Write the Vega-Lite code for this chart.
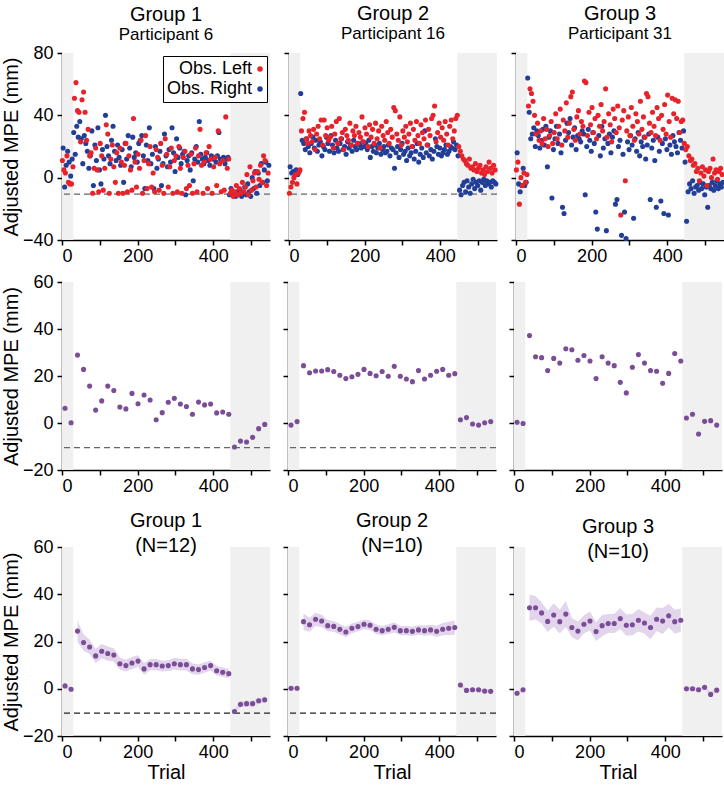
{
"$schema": "https://vega.github.io/schema/vega-lite/v6.json",
"padding": {"left": 1, "top": 4, "right": 0, "bottom": 0},
"config": {
  "view": {"stroke": null},
  "font": "Liberation Sans",
  "axis": {"grid": false, "domainColor": "black", "tickColor": "black", "labelColor": "black", "titleColor": "black", "labelFontSize": 18, "titleFontSize": 20, "titleFontWeight": "normal", "tickSize": 5, "domainWidth": 1.5, "tickWidth": 1.5},
  "axisX": {"labelPadding": 2},
  "axisY": {"labelPadding": 4},
  "title": {"fontSize": 20, "fontWeight": "normal", "color": "black", "subtitleColor": "black", "anchor": "middle"},
  "legend": {"labelFontSize": 18, "labelColor": "black"}
},
"datasets": {
  "shade": [{"a": 0, "b": 30}, {"a": 445, "b": 550}],
  "one": [{}],
  "s1L": [{"t":1,"y":11},{"t":5,"y":5},{"t":9,"y":3},{"t":13,"y":14},{"t":17,"y":-3},{"t":21,"y":-4},{"t":25,"y":-4},{"t":29,"y":7},{"t":33,"y":51},{"t":37,"y":61},{"t":41,"y":43},{"t":45,"y":42},{"t":49,"y":23},{"t":53,"y":50},{"t":57,"y":55},{"t":61,"y":42},{"t":65,"y":24},{"t":69,"y":31},{"t":73,"y":14},{"t":77,"y":16},{"t":81,"y":-10},{"t":85,"y":6},{"t":89,"y":19},{"t":93,"y":5},{"t":97,"y":-9},{"t":101,"y":22},{"t":105,"y":14},{"t":109,"y":-8},{"t":113,"y":6},{"t":117,"y":34},{"t":121,"y":28},{"t":125,"y":-10},{"t":129,"y":12},{"t":133,"y":21},{"t":137,"y":7},{"t":141,"y":-3},{"t":145,"y":16},{"t":149,"y":-10},{"t":153,"y":19},{"t":157,"y":10},{"t":161,"y":-10},{"t":165,"y":8},{"t":169,"y":22},{"t":173,"y":-9},{"t":177,"y":14},{"t":181,"y":5},{"t":185,"y":-8},{"t":189,"y":38},{"t":193,"y":10},{"t":197,"y":-6},{"t":201,"y":15},{"t":205,"y":6},{"t":209,"y":24},{"t":213,"y":-10},{"t":217,"y":11},{"t":221,"y":27},{"t":225,"y":-7},{"t":229,"y":9},{"t":233,"y":20},{"t":237,"y":-6},{"t":241,"y":3},{"t":245,"y":-9},{"t":249,"y":18},{"t":253,"y":13},{"t":257,"y":-8},{"t":261,"y":22},{"t":265,"y":8},{"t":269,"y":-10},{"t":273,"y":25},{"t":277,"y":15},{"t":281,"y":-6},{"t":285,"y":7},{"t":289,"y":19},{"t":293,"y":-10},{"t":297,"y":11},{"t":301,"y":14},{"t":305,"y":-9},{"t":309,"y":20},{"t":313,"y":6},{"t":317,"y":-10},{"t":321,"y":13},{"t":325,"y":17},{"t":329,"y":-7},{"t":333,"y":8},{"t":337,"y":-5},{"t":341,"y":15},{"t":345,"y":-10},{"t":349,"y":9},{"t":353,"y":19},{"t":357,"y":-9},{"t":361,"y":14},{"t":365,"y":31},{"t":369,"y":8},{"t":373,"y":-10},{"t":377,"y":10},{"t":381,"y":16},{"t":385,"y":-7},{"t":389,"y":20},{"t":393,"y":12},{"t":397,"y":-10},{"t":401,"y":7},{"t":405,"y":13},{"t":409,"y":-5},{"t":413,"y":30},{"t":417,"y":9},{"t":421,"y":-9},{"t":425,"y":11},{"t":429,"y":-8},{"t":433,"y":39},{"t":437,"y":6},{"t":441,"y":12},{"t":445,"y":-10},{"t":449,"y":-8},{"t":453,"y":-12},{"t":457,"y":-9},{"t":461,"y":-5},{"t":465,"y":-11},{"t":469,"y":-7},{"t":473,"y":-10},{"t":477,"y":-3},{"t":481,"y":-9},{"t":485,"y":-6},{"t":489,"y":2},{"t":493,"y":-11},{"t":497,"y":7},{"t":501,"y":-8},{"t":505,"y":-2},{"t":509,"y":3},{"t":513,"y":-6},{"t":517,"y":4},{"t":521,"y":-1},{"t":525,"y":8},{"t":529,"y":-3},{"t":533,"y":14},{"t":537,"y":11},{"t":541,"y":-5},{"t":545,"y":3}],
  "s1R": [{"t":3,"y":19},{"t":7,"y":-6},{"t":11,"y":8},{"t":15,"y":17},{"t":19,"y":10},{"t":23,"y":1},{"t":27,"y":12},{"t":31,"y":29},{"t":35,"y":15},{"t":39,"y":33},{"t":43,"y":26},{"t":47,"y":36},{"t":51,"y":25},{"t":55,"y":9},{"t":59,"y":27},{"t":63,"y":22},{"t":67,"y":17},{"t":71,"y":6},{"t":75,"y":14},{"t":79,"y":30},{"t":83,"y":-5},{"t":87,"y":21},{"t":91,"y":11},{"t":95,"y":32},{"t":99,"y":5},{"t":103,"y":-4},{"t":107,"y":18},{"t":111,"y":12},{"t":115,"y":40},{"t":119,"y":20},{"t":123,"y":14},{"t":127,"y":9},{"t":131,"y":24},{"t":135,"y":33},{"t":139,"y":17},{"t":143,"y":11},{"t":147,"y":21},{"t":151,"y":13},{"t":155,"y":8},{"t":159,"y":18},{"t":163,"y":-3},{"t":167,"y":22},{"t":171,"y":12},{"t":175,"y":27},{"t":179,"y":19},{"t":183,"y":7},{"t":187,"y":26},{"t":191,"y":13},{"t":195,"y":16},{"t":199,"y":10},{"t":203,"y":22},{"t":207,"y":24},{"t":211,"y":27},{"t":215,"y":14},{"t":219,"y":-7},{"t":223,"y":21},{"t":227,"y":11},{"t":231,"y":32},{"t":235,"y":9},{"t":239,"y":15},{"t":243,"y":-7},{"t":247,"y":20},{"t":251,"y":6},{"t":255,"y":12},{"t":259,"y":17},{"t":263,"y":-5},{"t":267,"y":9},{"t":271,"y":28},{"t":275,"y":14},{"t":279,"y":7},{"t":283,"y":18},{"t":287,"y":10},{"t":291,"y":32},{"t":295,"y":16},{"t":299,"y":4},{"t":303,"y":25},{"t":307,"y":13},{"t":311,"y":19},{"t":315,"y":9},{"t":319,"y":15},{"t":323,"y":17},{"t":327,"y":-11},{"t":331,"y":11},{"t":335,"y":14},{"t":339,"y":5},{"t":343,"y":16},{"t":347,"y":-2},{"t":351,"y":12},{"t":355,"y":20},{"t":359,"y":10},{"t":363,"y":36},{"t":367,"y":15},{"t":371,"y":12},{"t":375,"y":9},{"t":379,"y":13},{"t":383,"y":16},{"t":387,"y":11},{"t":391,"y":8},{"t":395,"y":14},{"t":399,"y":12},{"t":403,"y":13},{"t":407,"y":10},{"t":411,"y":14},{"t":415,"y":29},{"t":419,"y":12},{"t":423,"y":11},{"t":427,"y":13},{"t":431,"y":9},{"t":435,"y":12},{"t":439,"y":13},{"t":443,"y":-11},{"t":447,"y":-7},{"t":451,"y":-11},{"t":455,"y":-10},{"t":459,"y":-12},{"t":463,"y":-9},{"t":467,"y":-11},{"t":471,"y":-8},{"t":475,"y":-12},{"t":479,"y":-10},{"t":483,"y":-6},{"t":487,"y":-11},{"t":491,"y":-4},{"t":495,"y":-9},{"t":499,"y":-12},{"t":503,"y":0},{"t":507,"y":-7},{"t":511,"y":4},{"t":515,"y":-10},{"t":519,"y":3},{"t":523,"y":-5},{"t":527,"y":9},{"t":531,"y":-3},{"t":535,"y":5},{"t":539,"y":10},{"t":543,"y":-2},{"t":547,"y":8}],
  "s2L": [{"t":1,"y":-10},{"t":5,"y":-6},{"t":9,"y":-3},{"t":13,"y":0},{"t":17,"y":2},{"t":21,"y":-4},{"t":25,"y":3},{"t":29,"y":5},{"t":33,"y":30},{"t":37,"y":38},{"t":41,"y":42},{"t":45,"y":25},{"t":49,"y":22},{"t":53,"y":30},{"t":57,"y":27},{"t":61,"y":23},{"t":65,"y":31},{"t":69,"y":18},{"t":73,"y":28},{"t":77,"y":33},{"t":81,"y":25},{"t":85,"y":37},{"t":89,"y":21},{"t":93,"y":37},{"t":97,"y":27},{"t":101,"y":32},{"t":105,"y":24},{"t":109,"y":26},{"t":113,"y":33},{"t":117,"y":19},{"t":121,"y":28},{"t":125,"y":36},{"t":129,"y":22},{"t":133,"y":38},{"t":137,"y":25},{"t":141,"y":29},{"t":145,"y":18},{"t":149,"y":31},{"t":153,"y":27},{"t":157,"y":24},{"t":161,"y":35},{"t":165,"y":21},{"t":169,"y":30},{"t":173,"y":27},{"t":177,"y":33},{"t":181,"y":22},{"t":185,"y":29},{"t":189,"y":26},{"t":193,"y":39},{"t":197,"y":23},{"t":201,"y":32},{"t":205,"y":28},{"t":209,"y":20},{"t":213,"y":34},{"t":217,"y":26},{"t":221,"y":31},{"t":225,"y":22},{"t":229,"y":35},{"t":233,"y":25},{"t":237,"y":30},{"t":241,"y":19},{"t":245,"y":33},{"t":249,"y":27},{"t":253,"y":24},{"t":257,"y":36},{"t":261,"y":29},{"t":265,"y":22},{"t":269,"y":31},{"t":273,"y":26},{"t":277,"y":45},{"t":281,"y":43},{"t":285,"y":28},{"t":289,"y":24},{"t":293,"y":39},{"t":297,"y":21},{"t":301,"y":30},{"t":305,"y":26},{"t":309,"y":33},{"t":313,"y":23},{"t":317,"y":28},{"t":321,"y":35},{"t":325,"y":20},{"t":329,"y":31},{"t":333,"y":24},{"t":337,"y":36},{"t":341,"y":27},{"t":345,"y":22},{"t":349,"y":34},{"t":353,"y":29},{"t":357,"y":25},{"t":361,"y":37},{"t":365,"y":21},{"t":369,"y":31},{"t":373,"y":27},{"t":377,"y":38},{"t":381,"y":40},{"t":385,"y":46},{"t":389,"y":23},{"t":393,"y":29},{"t":397,"y":35},{"t":401,"y":26},{"t":405,"y":32},{"t":409,"y":24},{"t":413,"y":36},{"t":417,"y":28},{"t":421,"y":21},{"t":425,"y":33},{"t":429,"y":37},{"t":433,"y":25},{"t":437,"y":30},{"t":441,"y":38},{"t":445,"y":40},{"t":449,"y":20},{"t":453,"y":17},{"t":457,"y":14},{"t":461,"y":12},{"t":465,"y":11},{"t":469,"y":9},{"t":473,"y":8},{"t":477,"y":12},{"t":481,"y":6},{"t":485,"y":7},{"t":489,"y":5},{"t":493,"y":9},{"t":497,"y":4},{"t":501,"y":6},{"t":505,"y":8},{"t":509,"y":3},{"t":513,"y":5},{"t":517,"y":2},{"t":521,"y":7},{"t":525,"y":4},{"t":529,"y":10},{"t":533,"y":6},{"t":537,"y":3},{"t":541,"y":8},{"t":545,"y":5}],
  "s2R": [{"t":3,"y":7},{"t":7,"y":3},{"t":11,"y":4},{"t":15,"y":4},{"t":19,"y":5},{"t":23,"y":2},{"t":27,"y":4},{"t":31,"y":54},{"t":35,"y":24},{"t":39,"y":22},{"t":43,"y":18},{"t":47,"y":25},{"t":51,"y":20},{"t":55,"y":16},{"t":59,"y":22},{"t":63,"y":26},{"t":67,"y":19},{"t":71,"y":24},{"t":75,"y":17},{"t":79,"y":21},{"t":83,"y":23},{"t":87,"y":14},{"t":91,"y":20},{"t":95,"y":18},{"t":99,"y":26},{"t":103,"y":22},{"t":107,"y":17},{"t":111,"y":27},{"t":115,"y":21},{"t":119,"y":16},{"t":123,"y":24},{"t":127,"y":19},{"t":131,"y":17},{"t":135,"y":22},{"t":139,"y":25},{"t":143,"y":18},{"t":147,"y":20},{"t":151,"y":15},{"t":155,"y":23},{"t":159,"y":19},{"t":163,"y":21},{"t":167,"y":17},{"t":171,"y":24},{"t":175,"y":20},{"t":179,"y":18},{"t":183,"y":22},{"t":187,"y":21},{"t":191,"y":19},{"t":195,"y":23},{"t":199,"y":20},{"t":203,"y":22},{"t":207,"y":18},{"t":211,"y":24},{"t":215,"y":13},{"t":219,"y":20},{"t":223,"y":17},{"t":227,"y":21},{"t":231,"y":16},{"t":235,"y":19},{"t":239,"y":22},{"t":243,"y":15},{"t":247,"y":18},{"t":251,"y":20},{"t":255,"y":16},{"t":259,"y":17},{"t":263,"y":21},{"t":267,"y":14},{"t":271,"y":19},{"t":275,"y":18},{"t":279,"y":6},{"t":283,"y":16},{"t":287,"y":20},{"t":291,"y":13},{"t":295,"y":18},{"t":299,"y":22},{"t":303,"y":15},{"t":307,"y":17},{"t":311,"y":11},{"t":315,"y":19},{"t":319,"y":14},{"t":323,"y":16},{"t":327,"y":20},{"t":331,"y":12},{"t":335,"y":17},{"t":339,"y":22},{"t":343,"y":10},{"t":347,"y":15},{"t":351,"y":19},{"t":355,"y":13},{"t":359,"y":30},{"t":363,"y":16},{"t":367,"y":21},{"t":371,"y":14},{"t":375,"y":18},{"t":379,"y":12},{"t":383,"y":17},{"t":387,"y":25},{"t":391,"y":20},{"t":395,"y":15},{"t":399,"y":19},{"t":403,"y":14},{"t":407,"y":16},{"t":411,"y":18},{"t":415,"y":21},{"t":419,"y":15},{"t":423,"y":17},{"t":427,"y":20},{"t":431,"y":19},{"t":435,"y":23},{"t":439,"y":18},{"t":443,"y":21},{"t":447,"y":14},{"t":451,"y":-8},{"t":455,"y":-11},{"t":459,"y":-5},{"t":463,"y":-3},{"t":467,"y":-9},{"t":471,"y":-2},{"t":475,"y":-6},{"t":479,"y":-10},{"t":483,"y":-4},{"t":487,"y":-1},{"t":491,"y":-7},{"t":495,"y":-3},{"t":499,"y":-5},{"t":503,"y":-2},{"t":507,"y":-8},{"t":511,"y":-3},{"t":515,"y":-1},{"t":519,"y":-5},{"t":523,"y":-2},{"t":527,"y":-4},{"t":531,"y":-3},{"t":535,"y":-6},{"t":539,"y":-2},{"t":543,"y":-3},{"t":547,"y":-4}],
  "s3L": [{"t":1,"y":5},{"t":5,"y":10},{"t":9,"y":-17},{"t":13,"y":0},{"t":17,"y":-5},{"t":21,"y":3},{"t":25,"y":-3},{"t":29,"y":2},{"t":33,"y":46},{"t":37,"y":57},{"t":41,"y":54},{"t":45,"y":49},{"t":49,"y":40},{"t":53,"y":28},{"t":57,"y":35},{"t":61,"y":24},{"t":65,"y":30},{"t":69,"y":22},{"t":73,"y":38},{"t":77,"y":25},{"t":81,"y":31},{"t":85,"y":20},{"t":89,"y":27},{"t":93,"y":36},{"t":97,"y":22},{"t":101,"y":29},{"t":105,"y":41},{"t":109,"y":25},{"t":113,"y":33},{"t":117,"y":44},{"t":121,"y":21},{"t":125,"y":37},{"t":129,"y":30},{"t":133,"y":48},{"t":137,"y":26},{"t":141,"y":35},{"t":145,"y":52},{"t":149,"y":55},{"t":153,"y":31},{"t":157,"y":24},{"t":161,"y":39},{"t":165,"y":43},{"t":169,"y":28},{"t":173,"y":36},{"t":177,"y":33},{"t":181,"y":62},{"t":185,"y":61},{"t":189,"y":27},{"t":193,"y":42},{"t":197,"y":34},{"t":201,"y":45},{"t":205,"y":29},{"t":209,"y":38},{"t":213,"y":25},{"t":217,"y":40},{"t":221,"y":33},{"t":225,"y":47},{"t":229,"y":30},{"t":233,"y":36},{"t":237,"y":57},{"t":241,"y":26},{"t":245,"y":41},{"t":249,"y":34},{"t":253,"y":23},{"t":257,"y":44},{"t":261,"y":38},{"t":265,"y":29},{"t":269,"y":46},{"t":273,"y":32},{"t":277,"y":-24},{"t":281,"y":37},{"t":285,"y":43},{"t":289,"y":-2},{"t":293,"y":30},{"t":297,"y":39},{"t":301,"y":27},{"t":305,"y":45},{"t":309,"y":33},{"t":313,"y":24},{"t":317,"y":41},{"t":321,"y":36},{"t":325,"y":28},{"t":329,"y":49},{"t":333,"y":31},{"t":337,"y":39},{"t":341,"y":26},{"t":345,"y":54},{"t":349,"y":52},{"t":353,"y":35},{"t":357,"y":29},{"t":361,"y":42},{"t":365,"y":33},{"t":369,"y":27},{"t":373,"y":45},{"t":377,"y":38},{"t":381,"y":24},{"t":385,"y":40},{"t":389,"y":31},{"t":393,"y":47},{"t":397,"y":28},{"t":401,"y":53},{"t":405,"y":36},{"t":409,"y":26},{"t":413,"y":51},{"t":417,"y":41},{"t":421,"y":50},{"t":425,"y":38},{"t":429,"y":49},{"t":433,"y":29},{"t":437,"y":36},{"t":441,"y":37},{"t":445,"y":22},{"t":449,"y":18},{"t":453,"y":20},{"t":457,"y":14},{"t":461,"y":11},{"t":465,"y":12},{"t":469,"y":8},{"t":473,"y":9},{"t":477,"y":4},{"t":481,"y":6},{"t":485,"y":-2},{"t":489,"y":3},{"t":493,"y":7},{"t":497,"y":1},{"t":501,"y":5},{"t":505,"y":-5},{"t":509,"y":4},{"t":513,"y":6},{"t":517,"y":0},{"t":521,"y":12},{"t":525,"y":3},{"t":529,"y":5},{"t":533,"y":-1},{"t":537,"y":4},{"t":541,"y":6},{"t":545,"y":2}],
  "s3R": [{"t":3,"y":16},{"t":7,"y":-4},{"t":11,"y":-9},{"t":15,"y":-5},{"t":19,"y":6},{"t":23,"y":-5},{"t":27,"y":-3},{"t":31,"y":64},{"t":35,"y":42},{"t":39,"y":25},{"t":43,"y":28},{"t":47,"y":32},{"t":51,"y":20},{"t":55,"y":30},{"t":59,"y":27},{"t":63,"y":19},{"t":67,"y":24},{"t":71,"y":31},{"t":75,"y":21},{"t":79,"y":33},{"t":83,"y":7},{"t":87,"y":26},{"t":91,"y":30},{"t":95,"y":-13},{"t":99,"y":18},{"t":103,"y":25},{"t":107,"y":33},{"t":111,"y":22},{"t":115,"y":28},{"t":119,"y":16},{"t":123,"y":-19},{"t":127,"y":-23},{"t":131,"y":24},{"t":135,"y":35},{"t":139,"y":29},{"t":143,"y":38},{"t":147,"y":21},{"t":151,"y":26},{"t":155,"y":32},{"t":159,"y":18},{"t":163,"y":27},{"t":167,"y":25},{"t":171,"y":23},{"t":175,"y":30},{"t":179,"y":28},{"t":183,"y":-11},{"t":187,"y":20},{"t":191,"y":31},{"t":195,"y":24},{"t":199,"y":17},{"t":203,"y":29},{"t":207,"y":22},{"t":211,"y":-22},{"t":215,"y":-33},{"t":219,"y":27},{"t":223,"y":14},{"t":227,"y":33},{"t":231,"y":19},{"t":235,"y":25},{"t":239,"y":-34},{"t":243,"y":22},{"t":247,"y":28},{"t":251,"y":16},{"t":255,"y":26},{"t":259,"y":30},{"t":263,"y":-17},{"t":267,"y":-14},{"t":271,"y":20},{"t":275,"y":24},{"t":279,"y":-37},{"t":283,"y":15},{"t":287,"y":-22},{"t":291,"y":-39},{"t":295,"y":23},{"t":299,"y":18},{"t":303,"y":27},{"t":307,"y":21},{"t":311,"y":-26},{"t":315,"y":25},{"t":319,"y":17},{"t":323,"y":29},{"t":327,"y":14},{"t":331,"y":23},{"t":335,"y":20},{"t":339,"y":26},{"t":343,"y":12},{"t":347,"y":21},{"t":351,"y":28},{"t":355,"y":-14},{"t":359,"y":19},{"t":363,"y":24},{"t":367,"y":11},{"t":371,"y":-19},{"t":375,"y":26},{"t":379,"y":17},{"t":383,"y":-15},{"t":387,"y":22},{"t":391,"y":-23},{"t":395,"y":25},{"t":399,"y":18},{"t":403,"y":-24},{"t":407,"y":21},{"t":411,"y":15},{"t":415,"y":27},{"t":419,"y":23},{"t":423,"y":20},{"t":427,"y":16},{"t":431,"y":29},{"t":435,"y":24},{"t":439,"y":19},{"t":443,"y":30},{"t":447,"y":10},{"t":451,"y":-28},{"t":455,"y":-9},{"t":459,"y":-4},{"t":463,"y":-7},{"t":467,"y":-2},{"t":471,"y":-10},{"t":475,"y":-6},{"t":479,"y":-5},{"t":483,"y":-8},{"t":487,"y":-3},{"t":491,"y":-7},{"t":495,"y":-4},{"t":499,"y":-11},{"t":503,"y":-6},{"t":507,"y":-19},{"t":511,"y":-5},{"t":515,"y":-7},{"t":519,"y":-3},{"t":523,"y":-8},{"t":527,"y":-5},{"t":531,"y":-2},{"t":535,"y":-7},{"t":539,"y":-4},{"t":543,"y":-6},{"t":547,"y":-3}],
  "mid": [
    {"g":1,"t":8,"y":6.3},{"g":1,"t":24,"y":0.1},{"g":1,"t":41,"y":28.9},{"g":1,"t":57,"y":22.8},{"g":1,"t":73,"y":15.7},{"g":1,"t":89,"y":5.5},{"g":1,"t":105,"y":9.4},{"g":1,"t":121,"y":15.7},{"g":1,"t":137,"y":13.8},{"g":1,"t":153,"y":6.8},{"g":1,"t":169,"y":6.0},{"g":1,"t":185,"y":12.6},{"g":1,"t":201,"y":8.2},{"g":1,"t":217,"y":11.9},{"g":1,"t":233,"y":9.8},{"g":1,"t":249,"y":1.4},{"g":1,"t":265,"y":4.4},{"g":1,"t":281,"y":8.8},{"g":1,"t":297,"y":10.5},{"g":1,"t":313,"y":8.1},{"g":1,"t":329,"y":7.0},{"g":1,"t":345,"y":3.7},{"g":1,"t":361,"y":8.9},{"g":1,"t":377,"y":7.7},{"g":1,"t":393,"y":8.1},{"g":1,"t":409,"y":4.3},{"g":1,"t":425,"y":4.7},{"g":1,"t":441,"y":3.7},{"g":1,"t":456,"y":-10.2},{"g":1,"t":472,"y":-7.7},{"g":1,"t":488,"y":-8.1},{"g":1,"t":504,"y":-6.1},{"g":1,"t":520,"y":-2.4},{"g":1,"t":536,"y":-0.6},
    {"g":2,"t":8,"y":-0.9},{"g":2,"t":24,"y":0.6},{"g":2,"t":41,"y":24.4},{"g":2,"t":57,"y":21.4},{"g":2,"t":73,"y":22.1},{"g":2,"t":89,"y":22.1},{"g":2,"t":105,"y":22.7},{"g":2,"t":121,"y":21.9},{"g":2,"t":137,"y":20.3},{"g":2,"t":153,"y":18.9},{"g":2,"t":169,"y":19.7},{"g":2,"t":185,"y":20.7},{"g":2,"t":201,"y":22.8},{"g":2,"t":217,"y":21.1},{"g":2,"t":233,"y":20.1},{"g":2,"t":249,"y":21.9},{"g":2,"t":265,"y":19.9},{"g":2,"t":281,"y":24.1},{"g":2,"t":297,"y":19.9},{"g":2,"t":313,"y":18.7},{"g":2,"t":329,"y":17.6},{"g":2,"t":345,"y":22.3},{"g":2,"t":361,"y":18.7},{"g":2,"t":377,"y":20.3},{"g":2,"t":393,"y":22.0},{"g":2,"t":409,"y":22.8},{"g":2,"t":425,"y":20.3},{"g":2,"t":441,"y":21.0},{"g":2,"t":456,"y":1.4},{"g":2,"t":472,"y":2.3},{"g":2,"t":488,"y":-0.4},{"g":2,"t":504,"y":-0.9},{"g":2,"t":520,"y":0.1},{"g":2,"t":536,"y":0.6},
    {"g":3,"t":8,"y":0.3},{"g":3,"t":24,"y":-0.2},{"g":3,"t":41,"y":37.2},{"g":3,"t":57,"y":28.2},{"g":3,"t":73,"y":27.8},{"g":3,"t":89,"y":22.3},{"g":3,"t":105,"y":27.5},{"g":3,"t":121,"y":25.5},{"g":3,"t":137,"y":31.6},{"g":3,"t":153,"y":31.2},{"g":3,"t":169,"y":26.7},{"g":3,"t":185,"y":28.7},{"g":3,"t":201,"y":26.4},{"g":3,"t":217,"y":18.9},{"g":3,"t":233,"y":28.2},{"g":3,"t":249,"y":25.5},{"g":3,"t":265,"y":24.4},{"g":3,"t":281,"y":17.3},{"g":3,"t":297,"y":12.8},{"g":3,"t":313,"y":23.7},{"g":3,"t":329,"y":29.1},{"g":3,"t":345,"y":25.5},{"g":3,"t":361,"y":22.3},{"g":3,"t":377,"y":22.0},{"g":3,"t":393,"y":16.9},{"g":3,"t":409,"y":21.1},{"g":3,"t":425,"y":29.6},{"g":3,"t":441,"y":26.4},{"g":3,"t":456,"y":2.1},{"g":3,"t":472,"y":3.7},{"g":3,"t":488,"y":-4.7},{"g":3,"t":504,"y":0.7},{"g":3,"t":520,"y":1.0},{"g":3,"t":536,"y":-0.9}
  ],
  "bot": [
    {"g":1,"s":0,"t":8,"y":1.2,"lo":0.4,"hi":2.0},{"g":1,"s":0,"t":24,"y":-0.2,"lo":-1.0,"hi":0.6},
    {"g":1,"s":1,"t":41,"y":24.4,"lo":19.9,"hi":28.9},{"g":1,"s":1,"t":57,"y":19.6,"lo":16.1,"hi":23.1},{"g":1,"s":1,"t":73,"y":17.7,"lo":14.7,"hi":20.7},{"g":1,"s":1,"t":89,"y":13.9,"lo":10.9,"hi":16.9},{"g":1,"s":1,"t":105,"y":15.9,"lo":12.9,"hi":18.9},{"g":1,"s":1,"t":121,"y":14.9,"lo":11.9,"hi":17.9},{"g":1,"s":1,"t":137,"y":14.3,"lo":11.5,"hi":17.1},{"g":1,"s":1,"t":153,"y":10.6,"lo":8.0,"hi":13.2},{"g":1,"s":1,"t":169,"y":9.8,"lo":7.3,"hi":12.3},{"g":1,"s":1,"t":185,"y":10.9,"lo":8.4,"hi":13.4},{"g":1,"s":1,"t":201,"y":11.7,"lo":9.2,"hi":14.2},{"g":1,"s":1,"t":217,"y":8.4,"lo":5.9,"hi":10.9},{"g":1,"s":1,"t":233,"y":10.2,"lo":7.8,"hi":12.6},{"g":1,"s":1,"t":249,"y":10.2,"lo":7.8,"hi":12.6},{"g":1,"s":1,"t":265,"y":9.6,"lo":7.3,"hi":11.9},{"g":1,"s":1,"t":281,"y":9.8,"lo":7.5,"hi":12.1},{"g":1,"s":1,"t":297,"y":10.6,"lo":8.1,"hi":13.1},{"g":1,"s":1,"t":313,"y":10.2,"lo":7.7,"hi":12.7},{"g":1,"s":1,"t":329,"y":10.2,"lo":7.7,"hi":12.7},{"g":1,"s":1,"t":345,"y":8.4,"lo":6.1,"hi":10.7},{"g":1,"s":1,"t":361,"y":8.1,"lo":5.9,"hi":10.3},{"g":1,"s":1,"t":377,"y":9.0,"lo":6.8,"hi":11.2},{"g":1,"s":1,"t":393,"y":9.8,"lo":7.7,"hi":11.9},{"g":1,"s":1,"t":409,"y":7.6,"lo":5.6,"hi":9.6},{"g":1,"s":1,"t":425,"y":7.0,"lo":5.0,"hi":9.0},{"g":1,"s":1,"t":441,"y":6.4,"lo":4.4,"hi":8.4},
    {"g":1,"s":2,"t":456,"y":-9.6,"lo":-10.8,"hi":-8.4},{"g":1,"s":2,"t":472,"y":-6.6,"lo":-7.8,"hi":-5.4},{"g":1,"s":2,"t":488,"y":-6.3,"lo":-7.5,"hi":-5.1},{"g":1,"s":2,"t":504,"y":-6.3,"lo":-7.5,"hi":-5.1},{"g":1,"s":2,"t":520,"y":-5.1,"lo":-6.3,"hi":-3.9},{"g":1,"s":2,"t":536,"y":-4.7,"lo":-5.9,"hi":-3.5},
    {"g":2,"s":0,"t":8,"y":0.2,"lo":-0.6,"hi":1.0},{"g":2,"s":0,"t":24,"y":0.2,"lo":-0.6,"hi":1.0},
    {"g":2,"s":1,"t":41,"y":28.4,"lo":24.9,"hi":31.9},{"g":2,"s":1,"t":57,"y":27.1,"lo":24.1,"hi":30.1},{"g":2,"s":1,"t":73,"y":29.4,"lo":26.6,"hi":32.2},{"g":2,"s":1,"t":89,"y":28.7,"lo":26.1,"hi":31.3},{"g":2,"s":1,"t":105,"y":26.7,"lo":24.3,"hi":29.1},{"g":2,"s":1,"t":121,"y":26.4,"lo":24.1,"hi":28.7},{"g":2,"s":1,"t":137,"y":25.2,"lo":23.0,"hi":27.4},{"g":2,"s":1,"t":153,"y":24.0,"lo":21.8,"hi":26.2},{"g":2,"s":1,"t":169,"y":25.6,"lo":23.5,"hi":27.7},{"g":2,"s":1,"t":185,"y":26.3,"lo":24.3,"hi":28.3},{"g":2,"s":1,"t":201,"y":27.3,"lo":25.3,"hi":29.3},{"g":2,"s":1,"t":217,"y":26.9,"lo":24.9,"hi":28.9},{"g":2,"s":1,"t":233,"y":25.2,"lo":23.2,"hi":27.2},{"g":2,"s":1,"t":249,"y":24.6,"lo":22.6,"hi":26.6},{"g":2,"s":1,"t":265,"y":25.2,"lo":23.2,"hi":27.2},{"g":2,"s":1,"t":281,"y":26.0,"lo":23.8,"hi":28.2},{"g":2,"s":1,"t":297,"y":24.6,"lo":22.6,"hi":26.6},{"g":2,"s":1,"t":313,"y":24.6,"lo":22.6,"hi":26.6},{"g":2,"s":1,"t":329,"y":24.3,"lo":22.3,"hi":26.3},{"g":2,"s":1,"t":345,"y":24.9,"lo":22.9,"hi":26.9},{"g":2,"s":1,"t":361,"y":24.6,"lo":22.4,"hi":26.8},{"g":2,"s":1,"t":377,"y":24.9,"lo":22.7,"hi":27.1},{"g":2,"s":1,"t":393,"y":24.3,"lo":21.9,"hi":26.7},{"g":2,"s":1,"t":409,"y":25.2,"lo":22.6,"hi":27.8},{"g":2,"s":1,"t":425,"y":25.6,"lo":22.8,"hi":28.4},{"g":2,"s":1,"t":441,"y":25.9,"lo":22.9,"hi":28.9},
    {"g":2,"s":2,"t":456,"y":1.6,"lo":0.8,"hi":2.4},{"g":2,"s":2,"t":472,"y":-0.7,"lo":-1.5,"hi":0.1},{"g":2,"s":2,"t":488,"y":-0.4,"lo":-1.2,"hi":0.4},{"g":2,"s":2,"t":504,"y":-0.4,"lo":-1.2,"hi":0.4},{"g":2,"s":2,"t":520,"y":-1.0,"lo":-1.8,"hi":-0.2},{"g":2,"s":2,"t":536,"y":-1.1,"lo":-1.9,"hi":-0.3},
    {"g":3,"s":0,"t":8,"y":-1.9,"lo":-2.7,"hi":-1.1},{"g":3,"s":0,"t":24,"y":-0.4,"lo":-1.2,"hi":0.4},
    {"g":3,"s":1,"t":41,"y":34.3,"lo":28.8,"hi":39.8},{"g":3,"s":1,"t":57,"y":34.3,"lo":29.3,"hi":39.3},{"g":3,"s":1,"t":73,"y":32.1,"lo":27.6,"hi":36.6},{"g":3,"s":1,"t":89,"y":28.5,"lo":24.0,"hi":33.0},{"g":3,"s":1,"t":105,"y":31.2,"lo":26.2,"hi":36.2},{"g":3,"s":1,"t":121,"y":28.4,"lo":23.4,"hi":33.4},{"g":3,"s":1,"t":137,"y":31.6,"lo":26.1,"hi":37.1},{"g":3,"s":1,"t":153,"y":25.9,"lo":21.9,"hi":29.9},{"g":3,"s":1,"t":169,"y":24.4,"lo":20.4,"hi":28.4},{"g":3,"s":1,"t":185,"y":27.3,"lo":23.5,"hi":31.1},{"g":3,"s":1,"t":201,"y":28.7,"lo":24.7,"hi":32.7},{"g":3,"s":1,"t":217,"y":24.2,"lo":20.2,"hi":28.2},{"g":3,"s":1,"t":233,"y":26.7,"lo":22.2,"hi":31.2},{"g":3,"s":1,"t":249,"y":27.6,"lo":23.6,"hi":31.6},{"g":3,"s":1,"t":265,"y":27.6,"lo":23.6,"hi":31.6},{"g":3,"s":1,"t":281,"y":29.7,"lo":25.2,"hi":34.2},{"g":3,"s":1,"t":297,"y":26.9,"lo":22.4,"hi":31.4},{"g":3,"s":1,"t":313,"y":27.1,"lo":22.6,"hi":31.6},{"g":3,"s":1,"t":329,"y":29.0,"lo":24.2,"hi":33.8},{"g":3,"s":1,"t":345,"y":27.8,"lo":23.3,"hi":32.3},{"g":3,"s":1,"t":361,"y":25.9,"lo":20.9,"hi":30.9},{"g":3,"s":1,"t":377,"y":29.4,"lo":24.4,"hi":34.4},{"g":3,"s":1,"t":393,"y":28.7,"lo":23.2,"hi":34.2},{"g":3,"s":1,"t":409,"y":30.9,"lo":25.9,"hi":35.9},{"g":3,"s":1,"t":425,"y":28.4,"lo":23.4,"hi":33.4},{"g":3,"s":1,"t":441,"y":29.0,"lo":24.0,"hi":34.0},
    {"g":3,"s":2,"t":456,"y":0.0,"lo":-0.8,"hi":0.8},{"g":3,"s":2,"t":472,"y":0.0,"lo":-0.8,"hi":0.8},{"g":3,"s":2,"t":488,"y":-0.4,"lo":-1.2,"hi":0.4},{"g":3,"s":2,"t":504,"y":0.6,"lo":-0.2,"hi":1.4},{"g":3,"s":2,"t":520,"y":-2.4,"lo":-3.2,"hi":-1.6},{"g":3,"s":2,"t":536,"y":-0.6,"lo":-1.4,"hi":0.2}
  ]
},
"spacing": 8,
"resolve": {"scale": {"color": "independent"}},
"vconcat": [
 {"hconcat": [
  {"width": 208, "height": 187, "title": {"text": "Group 1", "subtitle": "Participant 6", "subtitleFontSize": 17, "subtitlePadding": 2, "offset": 1},
   "layer": [
    {"data": {"name": "shade"}, "mark": {"type": "rect", "color": "#eff0ef"}, "encoding": {"x": {"field": "a", "type": "quantitative", "scale": {"domain": [0, 550], "nice": false}, "axis": {"values": [0,100,200,300,400,500], "labelExpr": "datum.value % 200 === 0 ? datum.label : ''", "title": null}}, "x2": {"field": "b"}}},
    {"data": {"name": "one"}, "mark": {"type": "rule", "color": "#666666", "strokeDash": [6, 4], "strokeWidth": 1.2}, "encoding": {"y": {"datum": -10.5}}},
    {"data": {"name": "s1R"}, "mark": {"type": "circle", "size": 26, "opacity": 1}, "encoding": {"x": {"field": "t", "type": "quantitative"}, "y": {"field": "y", "type": "quantitative", "scale": {"domain": [-40, 80], "nice": false}, "axis": {"values": [-40,-20,0,20,40,60,80], "title": "Adjusted MPE (mm)", "titlePadding": 1}}, "color": {"datum": "Obs. Right", "type": "nominal", "scale": {"domain": ["Obs. Left", "Obs. Right"], "range": ["#e8222b", "#233e97"]}, "legend": {"orient": "top-right", "offset": 3, "title": null, "strokeColor": "black", "fillColor": "white", "padding": 4, "symbolType": "circle", "symbolSize": 30, "labelFontSize": 18, "rowPadding": 2, "labelAlign": "right", "labelOffset": -17, "symbolOffset": 84}}}},
    {"data": {"name": "s1L"}, "mark": {"type": "circle", "size": 26, "opacity": 1}, "encoding": {"x": {"field": "t", "type": "quantitative"}, "y": {"field": "y", "type": "quantitative"}, "color": {"datum": "Obs. Left", "type": "nominal"}}}
   ]},
  {"width": 208, "height": 187, "title": {"text": "Group 2", "subtitle": "Participant 16", "subtitleFontSize": 17, "subtitlePadding": 2, "offset": 10},
   "layer": [
    {"data": {"name": "shade"}, "mark": {"type": "rect", "color": "#eff0ef"}, "encoding": {"x": {"field": "a", "type": "quantitative", "scale": {"domain": [0, 550], "nice": false}, "axis": {"values": [0,100,200,300,400,500], "labelExpr": "datum.value % 200 === 0 ? datum.label : ''", "title": null}}, "x2": {"field": "b"}}},
    {"data": {"name": "one"}, "mark": {"type": "rule", "color": "#666666", "strokeDash": [6, 4], "strokeWidth": 1.2}, "encoding": {"y": {"datum": -10.5}}},
    {"data": {"name": "s2R"}, "mark": {"type": "circle", "size": 26, "opacity": 1}, "encoding": {"x": {"field": "t", "type": "quantitative"}, "y": {"field": "y", "type": "quantitative", "scale": {"domain": [-40, 80], "nice": false}, "axis": {"values": [-40,-20,0,20,40,60,80], "labels": false, "title": null}}, "color": {"datum": "Obs. Right", "type": "nominal", "scale": {"domain": ["Obs. Left", "Obs. Right"], "range": ["#e8222b", "#233e97"]}, "legend": null}}},
    {"data": {"name": "s2L"}, "mark": {"type": "circle", "size": 26, "opacity": 1}, "encoding": {"x": {"field": "t", "type": "quantitative"}, "y": {"field": "y", "type": "quantitative"}, "color": {"datum": "Obs. Left", "type": "nominal"}}}
   ]},
  {"width": 208, "height": 187, "title": {"text": "Group 3", "subtitle": "Participant 31", "subtitleFontSize": 17, "subtitlePadding": 2, "offset": 10},
   "layer": [
    {"data": {"name": "shade"}, "mark": {"type": "rect", "color": "#eff0ef"}, "encoding": {"x": {"field": "a", "type": "quantitative", "scale": {"domain": [0, 550], "nice": false}, "axis": {"values": [0,100,200,300,400,500], "labelExpr": "datum.value % 200 === 0 ? datum.label : ''", "title": null}}, "x2": {"field": "b"}}},
    {"data": {"name": "s3R"}, "mark": {"type": "circle", "size": 26, "opacity": 1}, "encoding": {"x": {"field": "t", "type": "quantitative"}, "y": {"field": "y", "type": "quantitative", "scale": {"domain": [-40, 80], "nice": false}, "axis": {"values": [-40,-20,0,20,40,60,80], "labels": false, "title": null}}, "color": {"datum": "Obs. Right", "type": "nominal", "scale": {"domain": ["Obs. Left", "Obs. Right"], "range": ["#e8222b", "#233e97"]}, "legend": null}}},
    {"data": {"name": "s3L"}, "mark": {"type": "circle", "size": 26, "opacity": 1}, "encoding": {"x": {"field": "t", "type": "quantitative"}, "y": {"field": "y", "type": "quantitative"}, "color": {"datum": "Obs. Left", "type": "nominal"}}}
   ]}
 ], "spacing": 11, "resolve": {"scale": {"color": "independent"}}},
 {"vconcat": [
 {"hconcat": [
  {"width": 208, "height": 188,
   "layer": [
    {"data": {"name": "shade"}, "mark": {"type": "rect", "color": "#eff0ef"}, "encoding": {"x": {"field": "a", "type": "quantitative", "scale": {"domain": [0, 550], "nice": false}, "axis": {"values": [0,100,200,300,400,500], "labelExpr": "datum.value % 200 === 0 ? datum.label : ''", "title": null}}, "x2": {"field": "b"}}},
    {"data": {"name": "one"}, "mark": {"type": "rule", "color": "#666666", "strokeDash": [6, 4], "strokeWidth": 1.2}, "encoding": {"y": {"datum": -10.5}}},
    {"data": {"name": "mid"}, "transform": [{"filter": "datum.g == 1"}], "mark": {"type": "circle", "size": 26, "color": "#7a4d96", "opacity": 1}, "encoding": {"x": {"field": "t", "type": "quantitative"}, "y": {"field": "y", "type": "quantitative", "scale": {"domain": [-20, 60], "nice": false}, "axis": {"values": [-20,0,20,40,60], "title": "Adjusted MPE (mm)", "titlePadding": 1}}}}
   ]},
  {"width": 208, "height": 188,
   "layer": [
    {"data": {"name": "shade"}, "mark": {"type": "rect", "color": "#eff0ef"}, "encoding": {"x": {"field": "a", "type": "quantitative", "scale": {"domain": [0, 550], "nice": false}, "axis": {"values": [0,100,200,300,400,500], "labelExpr": "datum.value % 200 === 0 ? datum.label : ''", "title": null}}, "x2": {"field": "b"}}},
    {"data": {"name": "one"}, "mark": {"type": "rule", "color": "#666666", "strokeDash": [6, 4], "strokeWidth": 1.2}, "encoding": {"y": {"datum": -10.5}}},
    {"data": {"name": "mid"}, "transform": [{"filter": "datum.g == 2"}], "mark": {"type": "circle", "size": 26, "color": "#7a4d96", "opacity": 1}, "encoding": {"x": {"field": "t", "type": "quantitative"}, "y": {"field": "y", "type": "quantitative", "scale": {"domain": [-20, 60], "nice": false}, "axis": {"values": [-20,0,20,40,60], "labels": false, "title": null}}}}
   ]},
  {"width": 208, "height": 188,
   "layer": [
    {"data": {"name": "shade"}, "mark": {"type": "rect", "color": "#eff0ef"}, "encoding": {"x": {"field": "a", "type": "quantitative", "scale": {"domain": [0, 550], "nice": false}, "axis": {"values": [0,100,200,300,400,500], "labelExpr": "datum.value % 200 === 0 ? datum.label : ''", "title": null}}, "x2": {"field": "b"}}},
    {"data": {"name": "mid"}, "transform": [{"filter": "datum.g == 3"}], "mark": {"type": "circle", "size": 26, "color": "#7a4d96", "opacity": 1}, "encoding": {"x": {"field": "t", "type": "quantitative"}, "y": {"field": "y", "type": "quantitative", "scale": {"domain": [-20, 60], "nice": false}, "axis": {"values": [-20,0,20,40,60], "labels": false, "title": null}}}}
   ]}
 ], "spacing": 11},
 {"hconcat": [
  {"width": 208, "height": 189, "title": {"text": ["Group 1", "(N=12)"], "offset": -18, "lineHeight": 25},
   "layer": [
    {"data": {"name": "shade"}, "mark": {"type": "rect", "color": "#eff0ef"}, "encoding": {"x": {"field": "a", "type": "quantitative", "scale": {"domain": [0, 550], "nice": false}, "axis": {"values": [0,100,200,300,400,500], "labelExpr": "datum.value % 200 === 0 ? datum.label : ''", "title": "Trial", "titlePadding": 1}}, "x2": {"field": "b"}}},
    {"data": {"name": "one"}, "mark": {"type": "rule", "color": "#222222", "strokeDash": [6, 4], "strokeWidth": 1.2}, "encoding": {"y": {"datum": -10.3}}},
    {"data": {"name": "bot"}, "transform": [{"filter": "datum.g == 1"}], "mark": {"type": "area", "color": "#e2d5ec", "opacity": 1}, "encoding": {"x": {"field": "t", "type": "quantitative"}, "y": {"field": "lo", "type": "quantitative", "scale": {"domain": [-20, 60], "nice": false}, "axis": {"values": [-20,0,20,40,60], "title": "Adjusted MPE (mm)", "titlePadding": 1}}, "y2": {"field": "hi"}, "detail": {"field": "s"}}},
    {"data": {"name": "bot"}, "transform": [{"filter": "datum.g == 1"}], "mark": {"type": "circle", "size": 26, "color": "#7a4d96", "opacity": 1}, "encoding": {"x": {"field": "t", "type": "quantitative"}, "y": {"field": "y", "type": "quantitative"}}}
   ]},
  {"width": 208, "height": 189, "title": {"text": ["Group 2", "(N=10)"], "offset": -10, "lineHeight": 25},
   "layer": [
    {"data": {"name": "shade"}, "mark": {"type": "rect", "color": "#eff0ef"}, "encoding": {"x": {"field": "a", "type": "quantitative", "scale": {"domain": [0, 550], "nice": false}, "axis": {"values": [0,100,200,300,400,500], "labelExpr": "datum.value % 200 === 0 ? datum.label : ''", "title": "Trial", "titlePadding": 1}}, "x2": {"field": "b"}}},
    {"data": {"name": "one"}, "mark": {"type": "rule", "color": "#222222", "strokeDash": [6, 4], "strokeWidth": 1.2}, "encoding": {"y": {"datum": -10.3}}},
    {"data": {"name": "bot"}, "transform": [{"filter": "datum.g == 2"}], "mark": {"type": "area", "color": "#e2d5ec", "opacity": 1}, "encoding": {"x": {"field": "t", "type": "quantitative"}, "y": {"field": "lo", "type": "quantitative", "scale": {"domain": [-20, 60], "nice": false}, "axis": {"values": [-20,0,20,40,60], "labels": false, "title": null}}, "y2": {"field": "hi"}, "detail": {"field": "s"}}},
    {"data": {"name": "bot"}, "transform": [{"filter": "datum.g == 2"}], "mark": {"type": "circle", "size": 26, "color": "#7a4d96", "opacity": 1}, "encoding": {"x": {"field": "t", "type": "quantitative"}, "y": {"field": "y", "type": "quantitative"}}}
   ]},
  {"width": 208, "height": 189, "title": {"text": ["Group 3", "(N=10)"], "offset": -16, "lineHeight": 25},
   "layer": [
    {"data": {"name": "shade"}, "mark": {"type": "rect", "color": "#eff0ef"}, "encoding": {"x": {"field": "a", "type": "quantitative", "scale": {"domain": [0, 550], "nice": false}, "axis": {"values": [0,100,200,300,400,500], "labelExpr": "datum.value % 200 === 0 ? datum.label : ''", "title": "Trial", "titlePadding": 1}}, "x2": {"field": "b"}}},
    {"data": {"name": "bot"}, "transform": [{"filter": "datum.g == 3"}], "mark": {"type": "area", "color": "#e2d5ec", "opacity": 1}, "encoding": {"x": {"field": "t", "type": "quantitative"}, "y": {"field": "lo", "type": "quantitative", "scale": {"domain": [-20, 60], "nice": false}, "axis": {"values": [-20,0,20,40,60], "labels": false, "title": null}}, "y2": {"field": "hi"}, "detail": {"field": "s"}}},
    {"data": {"name": "bot"}, "transform": [{"filter": "datum.g == 3"}], "mark": {"type": "circle", "size": 26, "color": "#7a4d96", "opacity": 1}, "encoding": {"x": {"field": "t", "type": "quantitative"}, "y": {"field": "y", "type": "quantitative"}}}
   ]}
 ], "spacing": 11}
 ], "spacing": 16}
]
}
